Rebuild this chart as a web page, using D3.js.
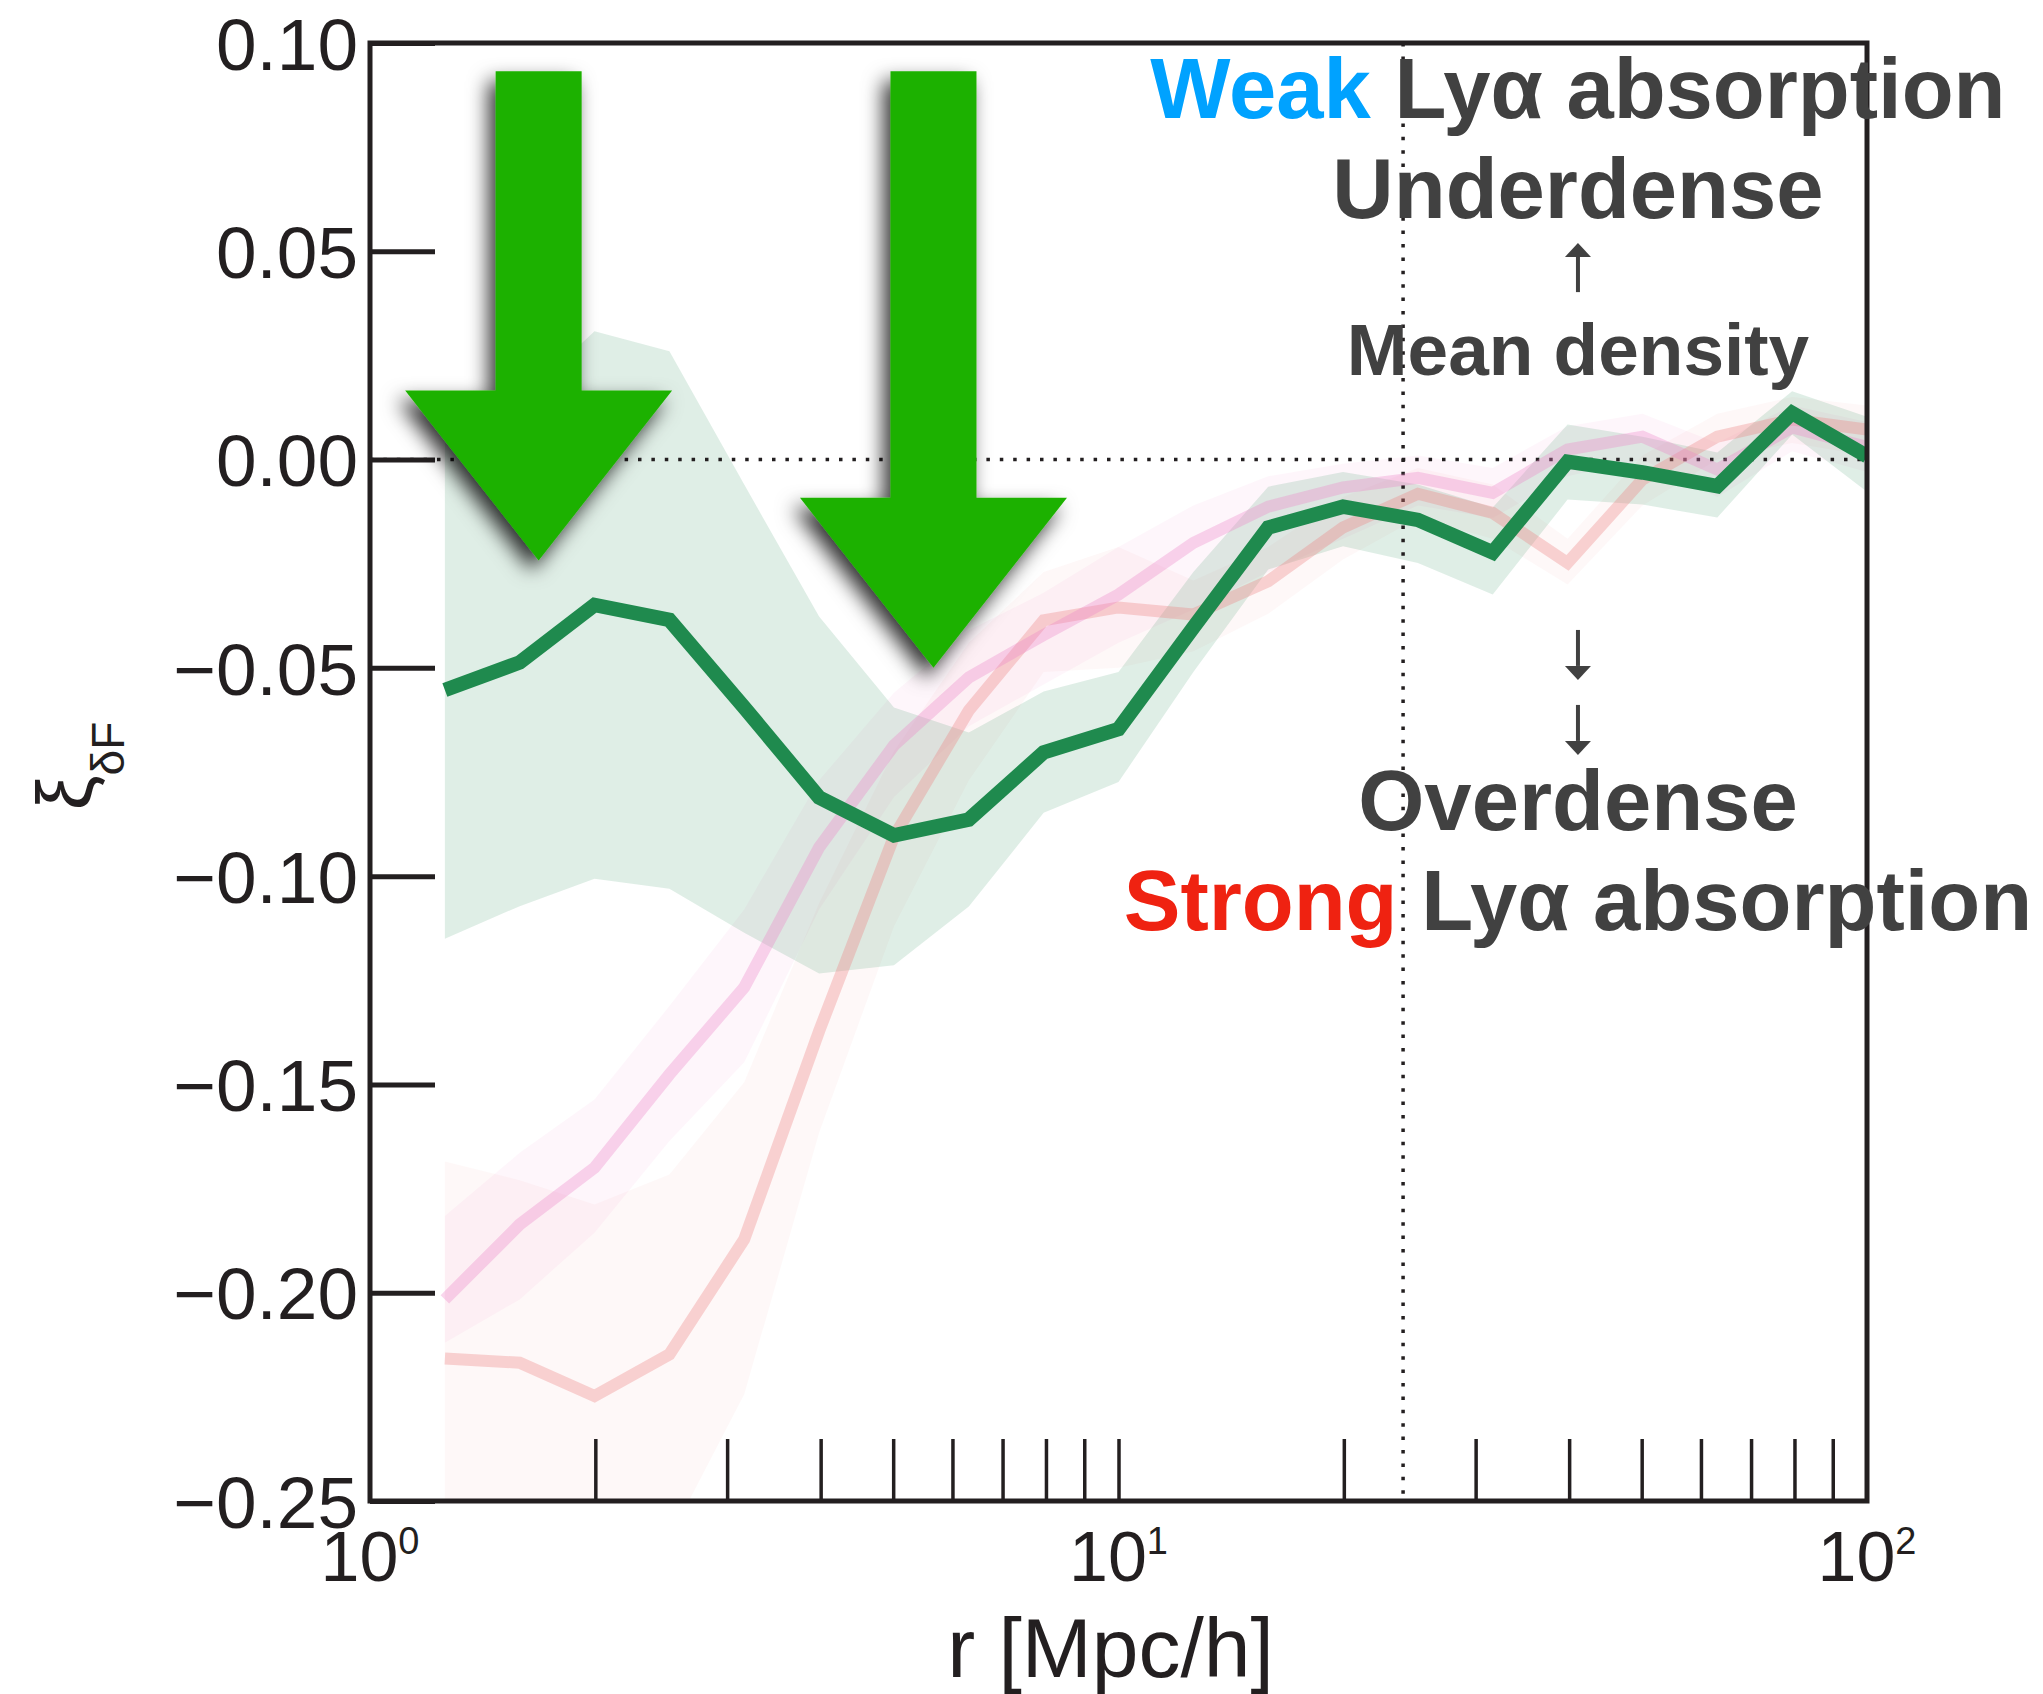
<!DOCTYPE html>
<html>
<head>
<meta charset="utf-8">
<script src="https://cdn.jsdelivr.net/npm/d3@7"></script>
<style>
  html, body { margin: 0; padding: 0; background: #fff; }
  svg { display: block; }
  text { font-family: "Liberation Sans", Arial, Helvetica, sans-serif; white-space: pre; }
</style>
</head>
<body>
<svg id="chart" width="2043" height="1694"></svg>
<script>
// ---- data -------------------------------------------------------------
// separation bins, r in Mpc/h
const rBins = [1.259, 1.585, 1.995, 2.512, 3.162, 3.981, 5.012, 6.310, 7.943, 10.00,
               12.59, 15.85, 19.95, 25.12, 31.62, 39.81, 50.12, 63.10, 79.43, 100.0];

// cross-correlation xi_deltaF, green sample (mean and 1-sigma range)
const greenXi = [-0.0553, -0.0487, -0.0349, -0.0385, -0.0595, -0.0811, -0.0902, -0.0864, -0.0703, -0.0647,
                 -0.0403, -0.0163, -0.0113, -0.0145, -0.0223, -0.0005, -0.0031, -0.0064, 0.0112, 0.0008];
const greenLo = [-0.1150, -0.1072, -0.1006, -0.1030, -0.1136, -0.1234, -0.1214, -0.1073, -0.0848, -0.0774,
                 -0.0510, -0.0264, -0.0208, -0.0248, -0.0324, -0.0096, -0.0108, -0.0139, 0.0060, -0.0077];
const greenHi = [0.0040, 0.0140, 0.0308, 0.0260, -0.0060, -0.0377, -0.0595, -0.0655, -0.0557, -0.0510,
                 -0.0270, -0.0065, -0.0030, -0.0060, -0.0115, 0.0084, 0.0055, 0.0017, 0.0164, 0.0103];

// pink sample
const pinkXi = [-0.2016, -0.1836, -0.1700, -0.1476, -0.1267, -0.0931, -0.0686, -0.0523, -0.0421, -0.0324,
                -0.0200, -0.0113, -0.0067, -0.0044, -0.0080, 0.0024, 0.0055, -0.0024, 0.0077, 0.0030];
const pinkLo = [-0.2120, -0.2016, -0.1856, -0.1636, -0.1447, -0.1080, -0.0810, -0.0640, -0.0540, -0.0440,
                -0.0360, -0.0270, -0.0190, -0.0110, -0.0140, -0.0040, 0.0000, -0.0090, 0.0020, -0.0030];
const pinkHi = [-0.1816, -0.1664, -0.1536, -0.1312, -0.1080, -0.0770, -0.0560, -0.0410, -0.0320, -0.0210,
                -0.0110, -0.0040, -0.0010, 0.0010, -0.0020, 0.0080, 0.0110, 0.0040, 0.0130, 0.0090];

// salmon sample
const salmonXi = [-0.2158, -0.2168, -0.2248, -0.2148, -0.1872, -0.1372, -0.0905, -0.0602, -0.0386, -0.0355,
                  -0.0372, -0.0292, -0.0163, -0.0082, -0.0128, -0.0248, -0.0048, 0.0055, 0.0096, 0.0072];
const salmonLo = [-0.2650, -0.2650, -0.2700, -0.2590, -0.2244, -0.1616, -0.1120, -0.0770, -0.0510, -0.0500,
                  -0.0460, -0.0370, -0.0240, -0.0140, -0.0190, -0.0300, -0.0110, 0.0000, 0.0040, 0.0010];
const salmonHi = [-0.1685, -0.1730, -0.1788, -0.1716, -0.1495, -0.1065, -0.0700, -0.0440, -0.0270, -0.0210,
                  -0.0290, -0.0210, -0.0090, -0.0020, -0.0060, -0.0190, 0.0010, 0.0110, 0.0150, 0.0130];

// axes
const yTickValues = [0.10, 0.05, 0.00, -0.05, -0.10, -0.15, -0.20, -0.25];
const yTickLabels = ["0.10", "0.05", "0.00", "\u22120.05", "\u22120.10", "\u22120.15", "\u22120.20", "\u22120.25"];
const xMinorTicks = [2, 3, 4, 5, 6, 7, 8, 9, 10, 20, 30, 40, 50, 60, 70, 80, 90];
const xDecades = [1, 10, 100];
const xDecadeExponents = ["0", "1", "2"];
const xiZero = 0;
const rMarker = 24;

// emphasis arrows: tip position (r, xi) and top of the shaft (xi)
const arrowTipR = [1.68, 5.66];
const arrowTipXi = [-0.0242, -0.0500];
const arrowTopXi = 0.0932;

// ---- layout -----------------------------------------------------------
const svg = d3.select("#chart");
const W = 2043, H = 1694;
const plot = { left: 370, right: 1867, top: 43, bottom: 1501 };

svg.append("rect").attr("width", W).attr("height", H).attr("fill", "#fff");

const x = d3.scaleLog().domain([1, 100]).range([plot.left, plot.right]);
const y = d3.scaleLinear().domain([-0.25, 0.10]).range([plot.bottom, plot.top]);

const defs = svg.append("defs");
defs.append("clipPath").attr("id", "plotClip")
  .append("rect")
  .attr("x", plot.left).attr("y", plot.top)
  .attr("width", plot.right - plot.left).attr("height", plot.bottom - plot.top);

const shadow = defs.append("filter").attr("id", "arrowShadow")
  .attr("x", "-40%").attr("y", "-20%").attr("width", "180%").attr("height", "150%");
shadow.append("feDropShadow")
  .attr("dx", -7).attr("dy", 10).attr("stdDeviation", 10)
  .attr("flood-color", "#000").attr("flood-opacity", 0.8);

const ink = "#231f20";
const COLORS = {
  green: "#1f8a4e",
  pink: "#ee82c8",
  salmon: "#ee8080",
  arrow: "#1eb100",
  note: "#414141",
  weak: "#00a2ff",
  strong: "#ef2211"
};

const g = svg.append("g").attr("clip-path", "url(#plotClip)");

const band = (lo, hi) => d3.area()
  .x((d, i) => x(rBins[i]))
  .y0((d, i) => y(lo[i]))
  .y1((d, i) => y(hi[i]))(rBins);

const line = (vals) => d3.line()
  .x((d, i) => x(rBins[i]))
  .y((d, i) => y(vals[i]))(rBins);

// shaded ranges
g.append("path").attr("d", band(salmonLo, salmonHi)).attr("fill", COLORS.salmon).attr("fill-opacity", 0.055);
g.append("path").attr("d", band(pinkLo, pinkHi)).attr("fill", COLORS.pink).attr("fill-opacity", 0.07);
g.append("path").attr("d", band(greenLo, greenHi)).attr("fill", COLORS.green).attr("fill-opacity", 0.14);

// reference lines
g.append("line")
  .attr("x1", plot.left).attr("x2", plot.right)
  .attr("y1", y(xiZero)).attr("y2", y(xiZero))
  .attr("stroke", ink).attr("stroke-width", 3.5).attr("stroke-dasharray", "3.5 9.9");
g.append("line")
  .attr("x1", x(rMarker)).attr("x2", x(rMarker))
  .attr("y1", plot.top).attr("y2", plot.bottom)
  .attr("stroke", ink).attr("stroke-width", 3.5).attr("stroke-dasharray", "3.5 9.9");

// correlation curves
g.append("path").attr("d", line(salmonXi)).attr("fill", "none")
  .attr("stroke", COLORS.salmon).attr("stroke-opacity", 0.33).attr("stroke-width", 12)
  .attr("stroke-linejoin", "miter");
g.append("path").attr("d", line(pinkXi)).attr("fill", "none")
  .attr("stroke", COLORS.pink).attr("stroke-opacity", 0.33).attr("stroke-width", 12)
  .attr("stroke-linejoin", "miter");
g.append("path").attr("d", line(greenXi)).attr("fill", "none")
  .attr("stroke", COLORS.green).attr("stroke-width", 14.5)
  .attr("stroke-linejoin", "miter");

// ---- axes -------------------------------------------------------------
const yAxis = d3.axisLeft(y)
  .tickValues(yTickValues)
  .tickFormat((d, i) => yTickLabels[i])
  .tickSizeInner(-65).tickSizeOuter(0).tickPadding(12);
const yAx = svg.append("g").attr("transform", `translate(${plot.left},0)`).call(yAxis);
yAx.select(".domain").remove();
yAx.selectAll(".tick line").attr("stroke", ink).attr("stroke-width", 5);
yAx.selectAll(".tick text")
  .attr("fill", ink).attr("font-size", 73)
  .attr("font-family", "'Liberation Sans', Arial, sans-serif")
  .attr("dy", "0.36em");

const xAxis = d3.axisBottom(x)
  .tickValues(xMinorTicks)
  .tickFormat("")
  .tickSizeInner(-62).tickSizeOuter(0);
const xAx = svg.append("g").attr("transform", `translate(0,${plot.bottom})`).call(xAxis);
xAx.select(".domain").remove();
xAx.selectAll(".tick line").attr("stroke", ink).attr("stroke-width", 3.5);

// decade labels 10^n
const dec = svg.append("g").selectAll("text").data(xDecades).join("text")
  .attr("x", d => x(d)).attr("y", plot.bottom + 80)
  .attr("text-anchor", "middle").attr("fill", ink).attr("font-size", 70);
dec.append("tspan").text("10");
dec.append("tspan").attr("dy", -27).attr("font-size", 38).text((d, i) => xDecadeExponents[i]);

// frame
svg.append("rect")
  .attr("x", plot.left).attr("y", plot.top)
  .attr("width", plot.right - plot.left).attr("height", plot.bottom - plot.top)
  .attr("fill", "none").attr("stroke", ink).attr("stroke-width", 5);

// axis titles
svg.append("text")
  .attr("x", (plot.left + plot.right) / 2 - 8).attr("y", 1677)
  .attr("text-anchor", "middle").attr("fill", ink).attr("font-size", 84)
  .text("r [Mpc/h]");

const yTitle = svg.append("text")
  .attr("transform", `translate(92,${(plot.top + plot.bottom) / 2 - 6}) rotate(-90)`)
  .attr("text-anchor", "middle").attr("fill", ink).attr("font-size", 78);
yTitle.append("tspan").text("\u03be");
yTitle.append("tspan").attr("dy", 32).attr("font-size", 46).text("\u03b4F");

// ---- annotations ------------------------------------------------------
const annR = 41.1;
const notes = [
  { xi: 0.0820, size: 85, parts: [["Weak", COLORS.weak], [" Ly\u03b1 absorption", COLORS.note]] },
  { xi: 0.0580, size: 85, parts: [["Underdense", COLORS.note]] },
  { xi: 0.0203, size: 73, parts: [["Mean density", COLORS.note]] },
  { xi: -0.0889, size: 85, parts: [["Overdense", COLORS.note]] },
  { xi: -0.1129, size: 85, parts: [["Strong", COLORS.strong], [" Ly\u03b1 absorption", COLORS.note]] }
];
const noteG = svg.append("g");
notes.forEach(n => {
  const t = noteG.append("text")
    .attr("x", x(annR)).attr("y", y(n.xi))
    .attr("text-anchor", "middle").attr("font-weight", "bold")
    .attr("font-size", n.size);
  n.parts.forEach(p => t.append("tspan").attr("fill", p[1]).text(p[0]));
});

// small direction arrows: [tail xi, tip xi]
const smallArrows = [[0.0402, 0.0520], [-0.0409, -0.0529], [-0.0589, -0.0709]];
smallArrows.forEach(([from, to]) => {
  const cx = x(annR), y0 = y(from), y1 = y(to);
  const dir = Math.sign(y1 - y0);
  const headLen = 14, headHalf = 13;
  noteG.append("line")
    .attr("x1", cx).attr("x2", cx)
    .attr("y1", y0).attr("y2", y1 - dir * headLen)
    .attr("stroke", COLORS.note).attr("stroke-width", 4);
  noteG.append("path")
    .attr("d", `M${cx - headHalf},${y1 - dir * headLen} L${cx + headHalf},${y1 - dir * headLen} L${cx},${y1} Z`)
    .attr("fill", COLORS.note);
});

// big emphasis arrows
const shaftHalf = 43, headHalfW = 133.5, headH = 170;
arrowTipR.forEach((r, i) => {
  const cx = x(r), tipY = y(arrowTipXi[i]), topY = y(arrowTopXi);
  const headTop = tipY - headH;
  const d = `M${cx - shaftHalf},${topY} L${cx + shaftHalf},${topY} L${cx + shaftHalf},${headTop}` +
            ` L${cx + headHalfW},${headTop} L${cx},${tipY} L${cx - headHalfW},${headTop}` +
            ` L${cx - shaftHalf},${headTop} Z`;
  svg.append("path").attr("d", d)
    .attr("fill", COLORS.arrow).attr("filter", "url(#arrowShadow)");
});
</script>
</body>
</html>
